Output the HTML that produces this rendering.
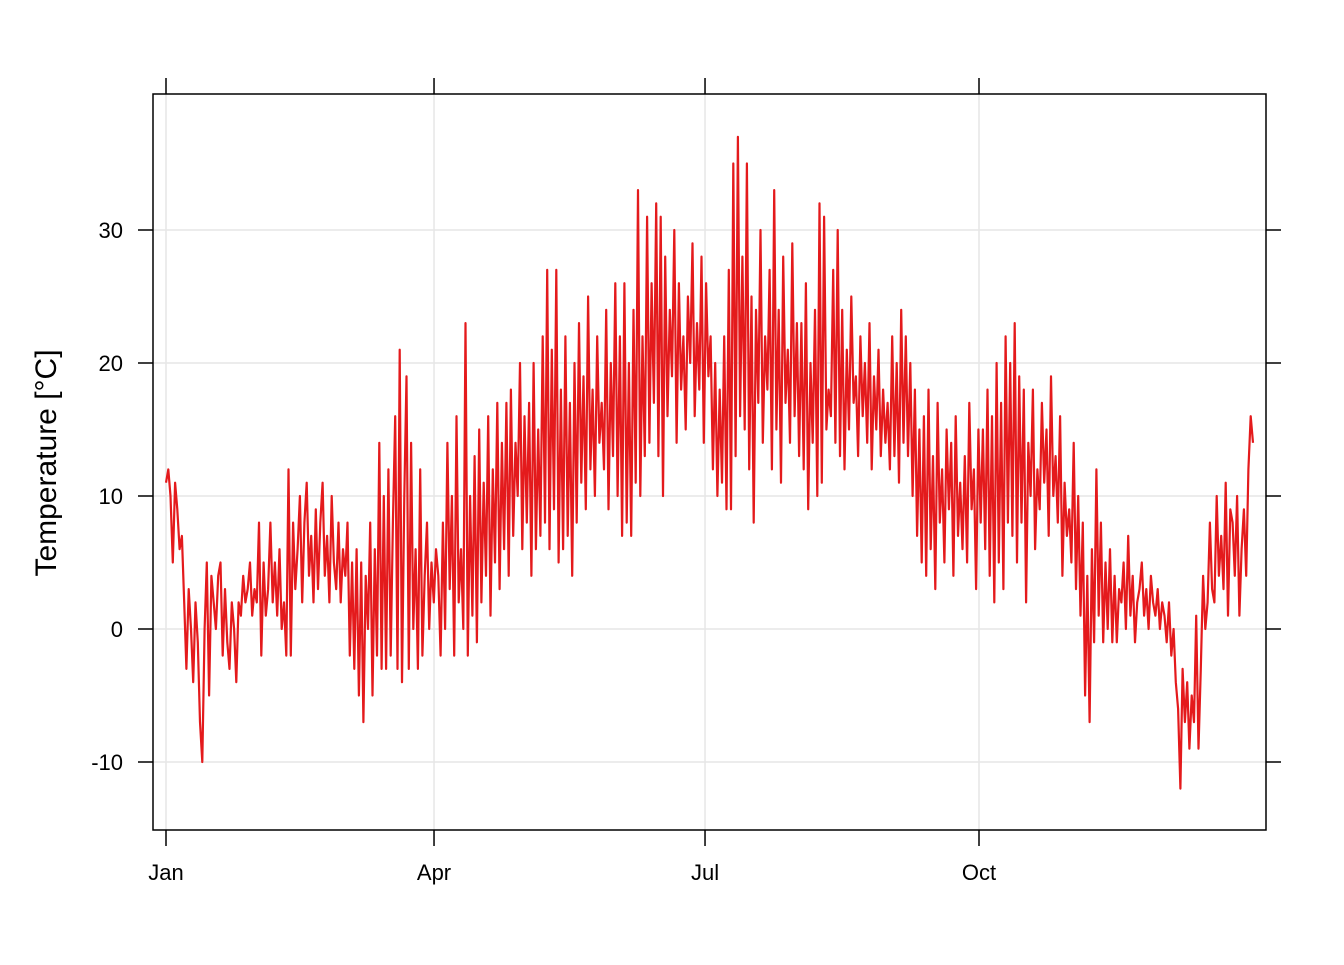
<!DOCTYPE html>
<html><head><meta charset="utf-8"><style>
body{margin:0;background:#fff;}
svg text{font-family:"Liberation Sans",sans-serif;font-size:22px;fill:#000;}
</style></head><body>
<svg id="chart" width="1344" height="960" xmlns="http://www.w3.org/2000/svg">
<defs><clipPath id="clip"><rect x="153" y="94" width="1113" height="736"/></clipPath></defs>
<g id="grid"></g>
<g id="series" clip-path="url(#clip)"></g>
<rect x="153" y="94" width="1113" height="736" fill="none" stroke="#000" stroke-width="1.5"/>
<g id="axes"></g>
<text x="56" y="463" transform="rotate(-90 56 463)" text-anchor="middle" style="font-size:30px">Temperature [°C]</text>
</svg>
<script>
const monthLabels=["Jan","Apr","Jul","Oct"];
const monthDays=[0,90,181,273];
const yTicks=[-10,0,10,20,30];
const temps=[
11,12,10,5,11,9,6,7,2,-3,3,0,-4,2,-1,-7,-10,0,5,-5,4,2,0,4,5,-2,3,-1,-3,2,0,-4,2,1,4,2,3,5,1,3,
2,8,-2,5,1,3,8,2,5,1,6,0,2,-2,12,-2,8,3,6,10,2,8,11,4,7,2,9,3,8,11,4,7,2,10,5,3,8,2,6,4,
8,-2,5,-3,6,-5,5,-7,4,0,8,-5,6,-2,14,-3,10,-3,12,-2,8,16,-3,21,-4,10,19,-3,14,0,6,-3,12,-2,4,8,0,5,2,6,
4,-2,8,0,14,3,10,-2,16,2,6,0,23,-2,10,1,13,-1,15,2,11,4,16,1,12,5,17,3,14,6,17,4,18,7,14,10,20,6,16,8,
17,4,20,6,15,7,22,8,27,6,21,9,27,5,18,6,22,7,17,4,20,8,23,11,19,9,25,12,18,10,22,14,17,12,24,9,20,13,26,10,
22,7,26,8,20,7,24,11,33,10,22,13,31,14,26,17,32,13,31,10,28,16,24,19,30,14,26,18,22,15,25,20,29,16,23,18,28,14,26,19,
22,12,20,10,18,11,22,9,27,9,35,13,37,16,28,15,35,12,25,8,24,17,30,14,22,18,27,12,33,15,24,11,28,17,21,14,29,16,23,13,
23,12,26,9,20,14,24,10,32,11,31,15,18,16,27,14,30,13,24,12,21,15,25,17,19,13,22,16,20,14,23,12,19,15,21,13,18,14,17,12,
22,13,20,11,24,14,22,13,20,10,18,7,15,5,16,4,18,6,13,3,17,8,12,5,15,9,14,4,16,7,11,6,13,5,17,9,12,3,15,8,
15,6,18,4,16,2,20,5,17,3,22,8,20,7,23,5,19,8,18,2,14,10,18,6,12,9,17,11,15,7,19,10,13,8,16,4,11,7,9,5,
14,3,10,1,8,-5,4,-7,6,-1,12,1,8,-1,5,0,6,-1,4,-1,3,2,5,0,7,1,4,-1,2,3,5,1,3,0,4,2,1,3,0,2,
1,-1,2,-2,0,-4,-6,-12,-3,-7,-4,-9,-5,-7,1,-9,-3,4,0,2,8,3,2,10,4,7,3,11,1,9,8,4,10,1,6,9,4,12,16,14];
const NS="http://www.w3.org/2000/svg";
const x=d=>166+d*(979-166)/273;
const y=v=>629-v*13.3;
function mk(tag,attrs,parent){const e=document.createElementNS(NS,tag);for(const k in attrs)e.setAttribute(k,attrs[k]);document.getElementById(parent).appendChild(e);return e;}
yTicks.forEach(t=>{
  const g=mk('line',{x1:153,x2:1266,y1:y(t),y2:y(t),stroke:'#e6e6e6','stroke-width':1.5},'grid');
  
  
  [[138,153],[1266,1281]].forEach(p=>{const l=mk('line',{x1:p[0],x2:p[1],y1:y(t),y2:y(t),stroke:'#000','stroke-width':1.5},'axes');
    
    });
  const tx=mk('text',{x:123,y:y(t)+8,'text-anchor':'end'},'axes');tx.textContent=t;
  
  
});
monthDays.forEach((d,i)=>{
  const g=mk('line',{x1:x(d),x2:x(d),y1:94,y2:830,stroke:'#e6e6e6','stroke-width':1.5},'grid');
  
  
  [[78,94],[830,846]].forEach(p=>{const l=mk('line',{x1:x(d),x2:x(d),y1:p[0],y2:p[1],stroke:'#000','stroke-width':1.5},'axes');
    
    });
  const tx=mk('text',{x:x(d),y:880,'text-anchor':'middle'},'axes');tx.textContent=monthLabels[i];
  
  
});
const step=365/(temps.length-1);
const pts=temps.map((v,i)=>x(i*step).toFixed(1)+','+y(v).toFixed(1)).join(' ');
const pl=mk('polyline',{points:pts,fill:'none',stroke:'#E41A1C','stroke-width':2.2,'stroke-linejoin':'round'},'series');


</script>
</body></html>
